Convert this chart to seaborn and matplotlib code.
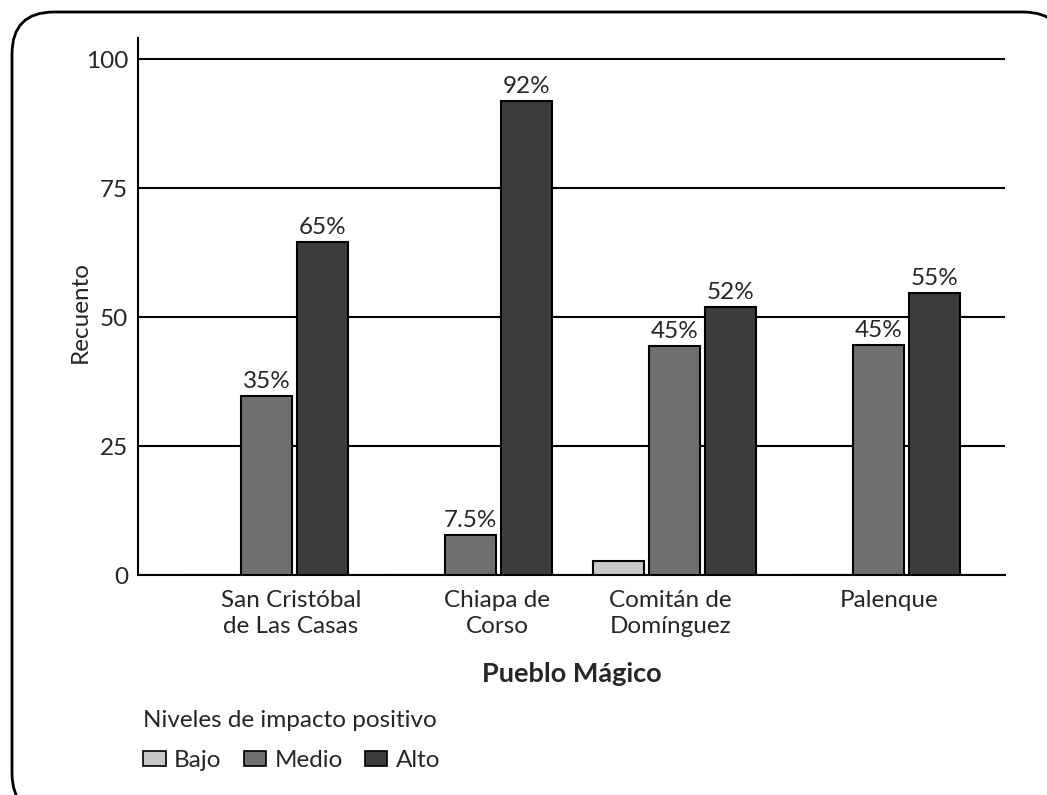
import numpy as np
import pandas as pd
import seaborn as sns
import matplotlib.pyplot as plt
from matplotlib.patches import FancyBboxPatch, Polygon
from matplotlib.transforms import IdentityTransform

# data
pueblos = ["San Cristóbal\nde Las Casas", "Chiapa de\nCorso", "Comitán de\nDomínguez", "Palenque"]
niveles = ["Bajo", "Medio", "Alto"]
bajo = [0, 0, 2.7, 0]
medio = [34.7, 7.7, 44.4, 44.6]
alto = [64.5, 91.9, 51.9, 54.7]
etiquetas_bajo = ["", "", "", ""]
etiquetas_medio = ["35%", "7.5%", "45%", "45%"]
etiquetas_alto = ["65%", "92%", "52%", "55%"]
colores = {"Bajo": "#c8c8c8", "Medio": "#6f6f6f", "Alto": "#3c3c3c"}

df = pd.DataFrame({
    "Pueblo Mágico": pueblos * 3,
    "Nivel": ["Bajo"] * 4 + ["Medio"] * 4 + ["Alto"] * 4,
    "Recuento": bajo + medio + alto,
})

sns.set_style("white")
plt.rcParams["font.family"] = ["Lato", "DejaVu Sans"]
fs = 17.5

fig = plt.figure(figsize=(10.47, 7.95), dpi=100)
ax = fig.add_axes([0.1318, 0.2767, 0.828, 0.6755])

sns.barplot(data=df, x="Pueblo Mágico", y="Recuento", hue="Nivel",
            hue_order=niveles, palette=colores, width=0.825, gap=0.1,
            edgecolor="black", linewidth=1.5, ax=ax, zorder=3)

for cont, labs in zip(ax.containers, [etiquetas_bajo, etiquetas_medio, etiquetas_alto]):
    ax.bar_label(cont, labels=labs, padding=3, fontsize=fs)

ax.set_xlim(-0.63, 3.62)
ax.set_ylim(0, 104.1)
ax.set_yticks([0, 25, 50, 75, 100])
ax.yaxis.grid(True, color="black", linewidth=1.5)
ax.set_axisbelow(True)

# the category labels in the original sit a bit off the group centres
desfase = [0.12, 0.13, -0.02, 0.05]
ax.set_xticks(np.arange(len(pueblos)) + np.array(desfase), pueblos)

for s in ["top", "right"]:
    ax.spines[s].set_visible(False)
ax.spines["left"].set_color("black")
ax.spines["left"].set_linewidth(1.5)
ax.spines["bottom"].set_color("black")
ax.spines["bottom"].set_linewidth(1.5)

ax.tick_params(axis="both", length=0, labelsize=fs)
ax.tick_params(axis="y", pad=7)
ax.tick_params(axis="x", pad=11)
for t in ax.get_xticklabels():
    t.set_linespacing(1.3)

ax.set_xlabel("Pueblo Mágico", fontsize=19.5, fontweight="bold", labelpad=18)
ax.set_ylabel("Recuento", fontsize=fs)
ax.yaxis.set_label_coords(-0.055, 0.49)

leg = ax.legend(title="Niveles de impacto positivo", ncol=3, frameon=False,
                loc="upper left", bbox_to_anchor=(0.116, 0.135),
                bbox_transform=fig.transFigure, fontsize=fs, title_fontsize=fs,
                handlelength=0.92, handleheight=0.6, columnspacing=0.9,
                handletextpad=0.35, labelspacing=0.8)
leg._legend_box.align = "left"
for h in leg.legend_handles:
    h.set_edgecolor("black")
    h.set_linewidth(1.2)

# rounded frame around the figure (linearised so the off-canvas corners clip cleanly)
caja = FancyBboxPatch((12, -20), 1053, 803, boxstyle="round,pad=0,rounding_size=42")
for poly in caja.get_path().to_polygons(closed_only=True):
    fig.add_artist(Polygon(poly, closed=True, fill=False, edgecolor="black",
                           linewidth=2, transform=IdentityTransform(), clip_on=False))

fig.savefig("out.png", dpi=100)
